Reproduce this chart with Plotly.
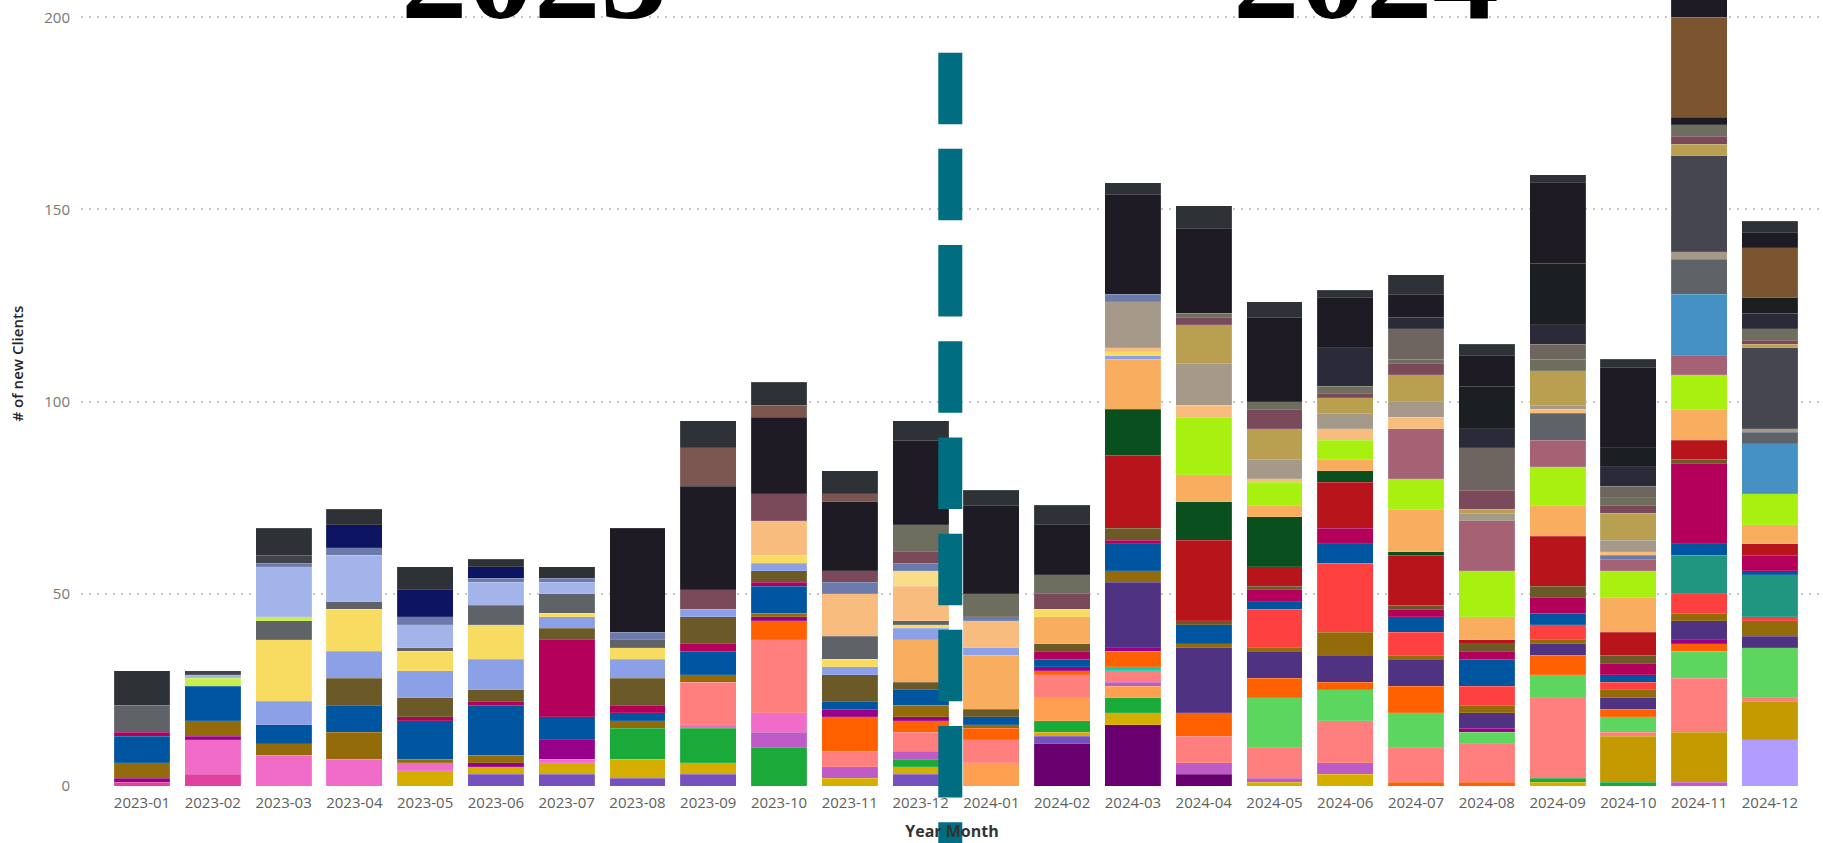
import plotly.graph_objects as go

# ---------------- data ----------------
months = ["2023-01", "2023-02", "2023-03", "2023-04", "2023-05", "2023-06",
          "2023-07", "2023-08", "2023-09", "2023-10", "2023-11", "2023-12",
          "2024-01", "2024-02", "2024-03", "2024-04", "2024-05", "2024-06",
          "2024-07", "2024-08", "2024-09", "2024-10", "2024-11", "2024-12"]

# stacked segments per month, bottom -> top: (client group, # of new clients)
s_2023_01 = [("dpink", 1), ("mpurple", 1), ("gold", 4), ("blue", 7), ("magenta", 1), ("gray", 7), ("dark", 9)]
s_2023_02 = [("dpink", 3), ("pink", 9), ("mpurple", 1), ("gold", 4), ("blue", 9), ("lgreen", 2), ("ltblue", 1), ("dgray", 1)]
s_2023_03 = [("pink", 8), ("gold", 3), ("blue", 5), ("peri", 6), ("yellow", 16), ("gray", 5), ("lgreen", 1),
             ("ltblue", 13), ("slate", 1), ("dgray", 2), ("dark", 7)]
s_2023_04 = [("pink", 7), ("gold", 7), ("blue", 7), ("olive", 7), ("peri", 7), ("yellow", 11), ("gray", 2),
             ("ltblue", 12), ("slate", 2), ("navy", 6), ("dark", 4)]
s_2023_05 = [("ygold", 4), ("pink", 2), ("gold", 1), ("blue", 10), ("magenta", 1), ("olive", 5), ("peri", 7),
             ("yellow", 5), ("gray", 1), ("ltblue", 6), ("slate", 2), ("navy", 7), ("dark", 6)]
s_2023_06 = [("purple", 3), ("ygold", 2), ("mpurple", 1), ("gold", 2), ("blue", 13), ("magenta", 1), ("olive", 3),
             ("peri", 8), ("yellow", 9), ("gray", 5), ("ltblue", 6), ("slate", 1), ("navy", 3), ("dark", 2)]
s_2023_07 = [("purple", 3), ("ygold", 3), ("pink", 1), ("mpurple", 5), ("blue", 6), ("magenta", 20), ("olive", 3),
             ("peri", 3), ("yellow", 1), ("gray", 5), ("ltblue", 3), ("slate", 1), ("dark", 3)]
s_2023_08 = [("purple", 2), ("ygold", 5), ("green", 8), ("gold", 2), ("blue", 2), ("magenta", 2), ("olive", 7),
             ("peri", 5), ("yellow", 3), ("gray", 2), ("slate", 2), ("vdark", 27)]
s_2023_09 = [("purple", 3), ("ygold", 3), ("green", 9), ("pink", 1), ("salmon", 11), ("gold", 2), ("blue", 6),
             ("magenta", 2), ("olive", 7), ("peri", 2), ("mauve", 5), ("vdark", 27), ("brown", 10), ("dark", 7)]
s_2023_10 = [("green", 10), ("orchid", 4), ("pink", 5), ("salmon", 19), ("orange", 5), ("mpurple", 1), ("gold", 1),
             ("blue", 7), ("magenta", 1), ("olive", 3), ("peri", 2), ("yellow", 2), ("peach", 9), ("mauve", 7),
             ("vdark", 20), ("brown", 3), ("dark", 6)]
s_2023_11 = [("ygold", 2), ("orchid", 3), ("salmon", 4), ("orange", 9), ("mpurple", 2), ("blue", 2), ("olive", 7),
             ("peri", 2), ("yellow", 2), ("gray", 6), ("peach", 11), ("slate", 3), ("mauve", 3), ("vdark", 18),
             ("brown", 2), ("dark", 6)]
s_2023_12 = [("purple", 3), ("ygold", 2), ("green", 2), ("orchid", 2), ("salmon", 5), ("orange", 3), ("mpurple", 1),
             ("gold", 3), ("blue", 4), ("olive", 2), ("lorange", 11), ("peri", 3), ("yellow", 1), ("gray", 1),
             ("peach", 9), ("lyellow", 4), ("slate", 2), ("mauve", 3), ("gyolive", 7), ("vdark", 22), ("dark", 5)]
s_2024_01 = [("opeach", 6), ("salmon", 6), ("orange", 3), ("gold", 1), ("blue", 2), ("olive", 2), ("lorange", 14),
             ("peri", 2), ("peach", 7), ("slate", 1), ("gyolive", 6), ("vdark", 23), ("dark", 4)]
s_2024_02 = [("dpurple", 11), ("purple", 2), ("ygold", 1), ("green", 3), ("opeach", 6), ("salmon", 6), ("orange", 1),
             ("mpurple", 1), ("blue", 2), ("magenta", 2), ("olive", 2), ("lorange", 7), ("yellow", 2), ("mauve", 4),
             ("gyolive", 5), ("vdark", 13), ("dark", 5)]
s_2024_03 = [("dpurple", 16), ("ygold", 3), ("green", 4), ("opeach", 3), ("orchid", 1), ("salmon", 3), ("teal2", 1),
             ("orange", 4), ("mpurple", 1), ("indigo", 17), ("gold", 3), ("blue", 7), ("magenta", 1), ("olive", 3),
             ("red", 19), ("dgreen", 12), ("lorange", 13), ("peri", 1), ("yellow", 1), ("peach", 1), ("taupe", 12),
             ("slate", 2), ("vdark", 26), ("dark", 3)]
s_2024_04 = [("dpurple", 3), ("orchid", 3), ("salmon", 7), ("orange", 6), ("indigo", 17), ("gold", 1), ("blue", 5),
             ("olive", 1), ("red", 21), ("dgreen", 10), ("lorange", 7), ("lime", 15), ("peach", 3), ("taupe", 11),
             ("khaki", 10), ("mauve", 2), ("gyolive", 1), ("vdark", 22), ("dark", 6)]
s_2024_05 = [("ygold", 1), ("orchid", 1), ("salmon", 8), ("lgreen2", 13), ("orange", 5), ("indigo", 7), ("gold", 1),
             ("bred", 10), ("blue", 2), ("magenta", 3), ("olive", 1), ("red", 5), ("dgreen", 13), ("lorange", 3),
             ("lime", 6), ("peach", 1), ("taupe", 5), ("khaki", 8), ("mauve", 5), ("gyolive", 2), ("vdark", 22),
             ("dark", 4)]
s_2024_06 = [("ygold", 3), ("orchid", 3), ("salmon", 11), ("lgreen2", 8), ("orange", 2), ("indigo", 7), ("gold", 6),
             ("bred", 18), ("blue", 5), ("magenta", 4), ("red", 12), ("dgreen", 3), ("lorange", 3), ("lime", 5),
             ("peach", 3), ("taupe", 4), ("khaki", 4), ("mauve", 1), ("gyolive", 2), ("dslate", 10), ("vdark", 13),
             ("dark", 2)]
s_2024_07 = [("orange", 1), ("salmon", 9), ("lgreen2", 9), ("orange", 7), ("indigo", 7), ("gold", 1), ("bred", 6),
             ("blue", 4), ("magenta", 2), ("olive", 1), ("red", 13), ("dgreen", 1), ("lorange", 11), ("lime", 8),
             ("rose", 13), ("peach", 3), ("taupe", 4), ("khaki", 7), ("mauve", 3), ("gyolive", 1), ("wgray", 8),
             ("dslate", 3), ("vdark", 6), ("dark", 5)]
s_2024_08 = [("orange", 1), ("salmon", 10), ("lgreen2", 3), ("mpurple", 1), ("indigo", 4), ("gold", 2), ("bred", 5),
             ("blue", 7), ("magenta", 2), ("olive", 2), ("red", 1), ("lorange", 6), ("lime", 12), ("rose", 13),
             ("taupe", 2), ("khaki", 1), ("mauve", 5), ("wgray", 11), ("dslate", 5), ("nblack", 11), ("vdark", 8),
             ("dark", 3)]
s_2024_09 = [("ygold", 1), ("green", 1), ("salmon", 21), ("lgreen2", 6), ("orange", 5), ("indigo", 3), ("gold", 1),
             ("bred", 4), ("blue", 3), ("magenta", 4), ("olive", 3), ("red", 13), ("lorange", 8), ("lime", 10),
             ("rose", 7), ("gray", 7), ("peach", 1), ("taupe", 1), ("khaki", 9), ("gyolive", 3), ("wgray", 4),
             ("dslate", 5), ("nblack", 16), ("vdark", 21), ("dark", 2)]
s_2024_10 = [("green", 1), ("golden", 12), ("salmon", 1), ("lgreen2", 4), ("orange", 2), ("indigo", 3), ("gold", 2),
             ("bred", 2), ("blue", 2), ("magenta", 3), ("olive", 2), ("red", 6), ("lorange", 9), ("lime", 7),
             ("rose", 3), ("slate", 1), ("peach", 1), ("taupe", 3), ("khaki", 7), ("mauve", 2), ("gyolive", 2),
             ("wgray", 3), ("dslate", 5), ("nblack", 5), ("vdark", 21), ("dark", 2)]
s_2024_11 = [("orchid", 1), ("golden", 13), ("salmon", 14), ("lgreen2", 7), ("orange", 2), ("mpurple", 1),
             ("indigo", 5), ("gold", 2), ("bred", 5), ("teal", 10), ("blue", 3), ("magenta", 21), ("olive", 1),
             ("red", 5), ("lorange", 8), ("lime", 9), ("rose", 5), ("steel", 16), ("gray", 9), ("taupe", 2),
             ("dsg", 25), ("khaki", 3), ("mauve", 2), ("gyolive", 3), ("vdark", 2), ("brown2", 26), ("vdark", 7)]
s_2024_12 = [("lavender", 12), ("golden", 10), ("salmon", 1), ("lgreen2", 13), ("indigo", 3), ("gold", 4), ("bred", 1),
             ("teal", 11), ("blue", 1), ("magenta", 4), ("red", 3), ("lorange", 5), ("lime", 8), ("steel", 13),
             ("gray", 3), ("taupe", 1), ("dsg", 21), ("khaki", 1), ("mauve", 1), ("gyolive", 3), ("dslate", 4),
             ("nblack", 4), ("brown2", 13), ("vdark", 4), ("dark", 3)]

stacks = [s_2023_01, s_2023_02, s_2023_03, s_2023_04, s_2023_05, s_2023_06,
          s_2023_07, s_2023_08, s_2023_09, s_2023_10, s_2023_11, s_2023_12,
          s_2024_01, s_2024_02, s_2024_03, s_2024_04, s_2024_05, s_2024_06,
          s_2024_07, s_2024_08, s_2024_09, s_2024_10, s_2024_11, s_2024_12]

y_ticks = [0, 50, 100, 150, 200]
year_labels = ["2023", "2024"]

# ---------------- styles ----------------
palette = {
    "dark": "#2E3236", "vdark": "#1F1B24", "nblack": "#1B1F22", "dslate": "#2A2A38",
    "gray": "#5F6368", "dgray": "#42434A", "dsg": "#45464F", "slate": "#6B7AAA",
    "ltblue": "#A3B4EA", "peri": "#8CA0E8", "navy": "#0D1461", "yellow": "#F8DC62",
    "lgreen": "#C5F04A", "blue": "#0055A0", "gold": "#946B0A", "olive": "#6B5A28",
    "pink": "#F06CC8", "dpink": "#E040A0", "magenta": "#B5005B", "mpurple": "#99008A",
    "purple": "#7550BF", "ygold": "#D6AE00", "green": "#1AAA3A", "salmon": "#FF7F7F",
    "brown": "#7B5550", "mauve": "#7A4A5A", "orange": "#FF6000", "orchid": "#BF5BC6",
    "peach": "#F8BD7E", "lorange": "#F8AE5E", "lyellow": "#F8DE88", "gyolive": "#6E6E5E",
    "opeach": "#FF9F50", "dpurple": "#6A0070", "taupe": "#A59A8A", "teal2": "#20C8A8",
    "indigo": "#4F3282", "red": "#B8141B", "dgreen": "#0A501E", "lime": "#A8F010",
    "khaki": "#B8A050", "bred": "#FF4040", "lgreen2": "#5CD65F", "rose": "#A56275",
    "wgray": "#6E6560", "golden": "#C49A00", "teal": "#1F9680", "steel": "#4590C4",
    "brown2": "#7B5530", "lavender": "#B19CFF",
}

fig = go.Figure()

max_layers = max(len(s) for s in stacks)
for k in range(max_layers):
    xs, ys, cols, names = [], [], [], []
    for m, s in zip(months, stacks):
        if k < len(s):
            key, val = s[k]
            xs.append(m)
            ys.append(val)
            cols.append(palette[key])
            names.append(key)
    fig.add_trace(go.Bar(
        x=xs, y=ys, customdata=names,
        marker=dict(color=cols, line=dict(width=0.5, color="rgba(255,255,255,0.25)")),
        hovertemplate="%{x}<br>%{customdata}: %{y}<extra></extra>",
        showlegend=False,
    ))

# big year labels (cut by the top edge as in the reference)
for lbl, xpos in zip(year_labels, [5.54, 17.30]):
    fig.add_annotation(
        x=xpos, xref="x", y=0.938, yref="paper", yanchor="bottom", xanchor="center",
        text=f"<b>{lbl}</b>", showarrow=False,
        font=dict(family="Liberation Serif, Times New Roman, serif", size=133, color="#000000"),
    )

# y axis title
fig.add_annotation(
    x=-0.037, xref="paper", y=0.537, yref="paper", textangle=-90,
    text="# of new Clients", showarrow=False, xanchor="center", yanchor="middle",
    font=dict(family="Open Sans, sans-serif", size=15, color="#252423", weight=600),
)

# dashed divider between 2023 and 2024
fig.add_shape(
    type="line", xref="x", yref="paper", x0=11.42, x1=11.42, y0=0.933, y1=-0.09,
    line=dict(color="#006E80", width=24, dash="71.5px,24.7px"), layer="above",
)

fig.update_layout(
    width=1823, height=843,
    barmode="stack", bargap=0.21,
    plot_bgcolor="white", paper_bgcolor="white",
    margin=dict(l=81, r=0, t=0, b=57, pad=0),
    font=dict(family="Open Sans, sans-serif", color="#666666"),
    hoverlabel=dict(font_size=12),
)
fig.update_xaxes(
    type="category", categoryorder="array", categoryarray=months,
    range=[-0.862, 23.75], showgrid=False, zeroline=False, showline=False,
    ticks="", tickfont=dict(size=15, color="#605E5C"), ticklabelstandoff=6,
    title=dict(text="<b>Year Month</b>", font=dict(size=16, color="#333333"), standoff=14),
    automargin=False,
)
fig.update_yaxes(
    range=[0, 204.5], tickvals=y_ticks, showgrid=True, gridcolor="#C4C4C4", griddash="2px,6px",
    gridwidth=1.5, zeroline=False, showline=False, ticks="",
    tickfont=dict(size=15, color="#777777"), ticklabelstandoff=10, automargin=False,
)

fig.write_html("out.html", config={"displayModeBar": False},
               post_script="document.body.style.margin='0';document.body.style.overflow='hidden';")
